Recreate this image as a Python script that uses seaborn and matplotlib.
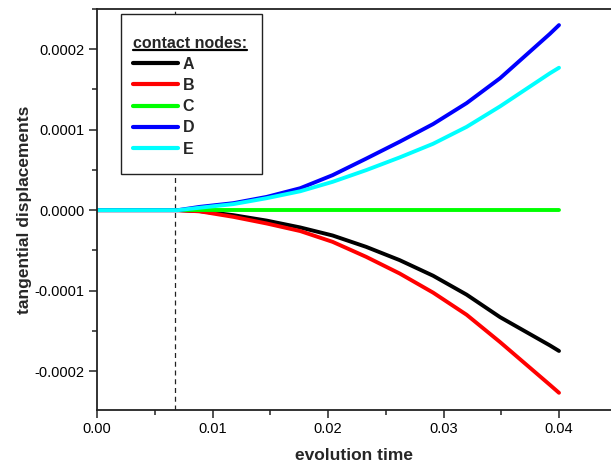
import numpy as np
import pandas as pd
import matplotlib
matplotlib.use("Agg")
import matplotlib.pyplot as plt
import seaborn as sns
from matplotlib.lines import Line2D
from matplotlib.patches import Rectangle
from matplotlib.ticker import MultipleLocator, FormatStrFormatter

# ---- data ----
time = [0.0, 0.0070, 0.0089, 0.0118, 0.0147, 0.0176, 0.0204, 0.0233,
        0.0262, 0.0291, 0.0320, 0.0349, 0.0392, 0.0400]
node_A = [0.0, 0.0, -0.0000012, -0.0000062, -0.0000130, -0.0000215, -0.0000315,
          -0.0000456, -0.0000621, -0.0000815, -0.000105, -0.000133, -0.000168, -0.000175]
node_B = [0.0, 0.0, -0.0000015, -0.0000083, -0.0000166, -0.0000260, -0.0000394,
          -0.000058, -0.0000787, -0.0001025, -0.000130, -0.000164, -0.000217, -0.000227]
node_C = [0.0] * 14
node_D = [0.0, 0.0, 0.0000041, 0.0000087, 0.0000165, 0.0000273, 0.0000435,
          0.0000640, 0.0000850, 0.000107, 0.000133, 0.000164, 0.000219, 0.000230]
node_E = [0.0, 0.0, 0.0000030, 0.0000075, 0.0000149, 0.0000235, 0.0000352,
          0.0000497, 0.0000655, 0.0000825, 0.0001035, 0.000129, 0.000170, 0.000177]
nodes = ["A", "B", "C", "D", "E"]
colors = ["#000000", "#ff0000", "#00ff00", "#0000ff", "#00ffff"]
marker_time = 0.00675
legend_title = "contact nodes:"

series = {"A": node_A, "B": node_B, "C": node_C, "D": node_D, "E": node_E}
df = pd.concat([pd.DataFrame({"time": time, "disp": series[n], "node": n}) for n in nodes],
               ignore_index=True)

sns.set_style("ticks")
plt.rcParams["font.family"] = ["Liberation Sans", "DejaVu Sans"]

W, H = 611, 468
AX_L, AX_T, AX_B, AX_R = 97, 9, 409.7, 611
AW, AH = AX_R - AX_L, AX_B - AX_T
fig = plt.figure(figsize=(W / 100, H / 100), dpi=100)
ax = fig.add_axes([AX_L / W, 1 - AX_B / H, AW / W, AH / H])


def axc(px, py):
    return (px - AX_L) / AW, 1 - (py - AX_T) / AH


sns.lineplot(data=df, x="time", y="disp", hue="node", hue_order=nodes,
             palette=dict(zip(nodes, colors)), estimator=None, sort=False,
             linewidth=2.8, ax=ax)
ax.axvline(marker_time, color="#222222", linestyle=(0, (4, 3)), linewidth=0.9, zorder=0)

ax.set_xlim(0, (611 - 97) / 11550)
ax.set_ylim(-0.000248, 0.00025)
ax.xaxis.set_major_locator(MultipleLocator(0.01))
ax.xaxis.set_minor_locator(MultipleLocator(0.005))
ax.yaxis.set_major_locator(MultipleLocator(0.0001))
ax.yaxis.set_minor_locator(MultipleLocator(0.00005))
ax.xaxis.set_major_formatter(FormatStrFormatter("%.2f"))
ax.yaxis.set_major_formatter(FormatStrFormatter("%.4f"))
ax.tick_params(which="major", direction="out", length=6, width=1.1, labelsize=10.5,
               color="#222222", labelcolor="black", pad=3)
ax.tick_params(which="minor", direction="out", length=3.5, width=1.1, color="#222222")
for side in ["left", "bottom", "top"]:
    ax.spines[side].set_linewidth(1.3)
    ax.spines[side].set_color("#222222")
ax.spines["right"].set_visible(False)

ax.set_xlabel("evolution time", fontsize=12.5, fontweight="bold", labelpad=8.5)
ax.set_ylabel("tangential displacements", fontsize=12.5, fontweight="bold", labelpad=1.5)

# legend frame (decoration)
fx0, fy1 = axc(121, 14)
fx1, fy0 = axc(262, 174)
ax.add_patch(Rectangle((fx0, fy0), fx1 - fx0, fy1 - fy0, transform=ax.transAxes,
                       facecolor="white", edgecolor="#222222", linewidth=1.0, zorder=4))

handles, labels = ax.get_legend_handles_labels()
leg = ax.legend(handles, labels, title=legend_title, loc="upper left",
                bbox_to_anchor=axc(133, 35.5), borderaxespad=0, borderpad=0,
                frameon=False,
                prop={"weight": "bold", "size": 11.5},
                title_fontproperties={"weight": "bold", "size": 11.5},
                handlelength=2.8, handletextpad=0.3, labelspacing=0.39,
                alignment="left")
leg.set_zorder(5)
for h in leg.get_lines():
    h.set_linewidth(3.0)

fig.canvas.draw()
title = leg.get_title()
bb = title.get_window_extent(fig.canvas.get_renderer())
inv = fig.transFigure.inverted()
(x0, y0), (x1, y1) = inv.transform([(bb.x0, bb.y0), (bb.x1, bb.y1)])
fig.add_artist(Line2D([x0, x1], [y0 + 0.001, y0 + 0.001], color="black",
                      linewidth=1.6, transform=fig.transFigure, zorder=6))

fig.savefig("out.png", dpi=100)
